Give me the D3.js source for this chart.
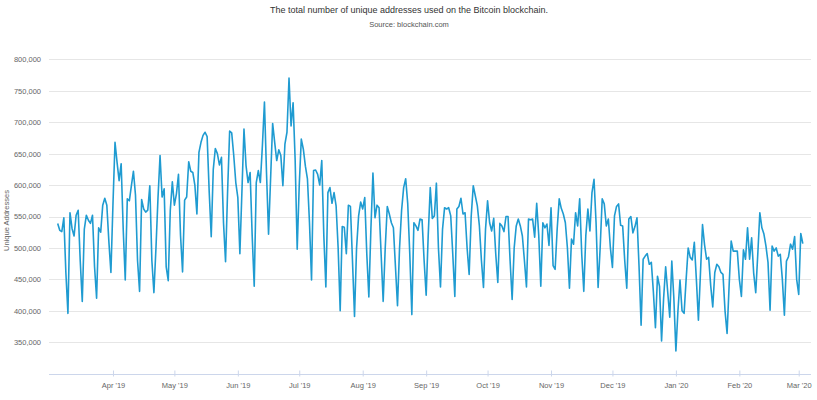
<!DOCTYPE html>
<html>
<head>
<meta charset="utf-8">
<script src="https://cdn.jsdelivr.net/npm/d3@7"></script>
<style>
  html, body { margin: 0; padding: 0; background: #fff; }
  svg { display: block; font-family: "Liberation Sans", Arial, sans-serif; }
</style>
</head>
<body>
<svg id="chart" width="817" height="400"></svg>
<script>
// ---- Data (daily, starting 2019-03-05) ----
const startDate = "2019-03-05";
const uniqueAddresses = [
  539000,528000,526000,548000,460000,396000,556000,531000,519000,552000,
  560000,480000,415000,530000,552000,544000,539000,552000,470000,420000,
  532000,525000,568000,579000,568000,510000,461000,570000,668000,636000,
  607000,634000,530000,449000,578000,575000,599000,622000,584000,480000,
  431000,577000,562000,557000,560000,599000,480000,429000,500000,580000,
  647000,581000,594000,470000,448000,560000,605000,568000,586000,617000,
  520000,462000,576000,581000,637000,622000,620000,600000,554000,652000,
  668000,679000,684000,677000,590000,518000,625000,658000,650000,632000,
  644000,540000,478000,590000,686000,683000,647000,604000,580000,491000,
  590000,689000,631000,604000,620000,520000,439000,604000,623000,604000,
  663000,732000,620000,522000,610000,698000,668000,639000,656000,647000,
  599000,665000,684000,770000,694000,731000,640000,498000,600000,673000,
  657000,630000,610000,540000,449000,623000,624000,617000,600000,639000,
  520000,438000,588000,596000,571000,588000,567000,500000,400000,534000,
  533000,491000,568000,566000,480000,391000,500000,551000,573000,562000,
  580000,490000,422000,530000,619000,548000,568000,564000,490000,415000,
  500000,566000,554000,540000,532000,470000,408000,500000,560000,596000,
  610000,570000,490000,394000,540000,535000,528000,546000,545000,480000,
  425000,520000,596000,547000,551000,603000,500000,438000,530000,564000,
  562000,564000,551000,490000,423000,562000,566000,579000,554000,556000,
  500000,458000,550000,599000,583000,567000,535000,480000,437000,530000,
  575000,540000,527000,547000,490000,445000,539000,535000,526000,550000,
  550000,480000,418000,500000,535000,546000,535000,519000,480000,438000,
  546000,545000,546000,517000,571000,520000,439000,540000,532000,538000,
  504000,564000,472000,466000,530000,578000,563000,554000,540000,500000,
  436000,514000,506000,556000,535000,578000,490000,431000,520000,562000,
  527000,588000,609000,540000,437000,500000,578000,570000,535000,546000,
  500000,469000,551000,566000,570000,536000,535000,480000,436000,546000,
  550000,524000,534000,548000,470000,377000,482000,487000,491000,474000,
  477000,430000,373000,455000,439000,352000,420000,470000,430000,390000,
  479000,420000,336000,400000,449000,400000,396000,450000,500000,485000,
  481000,509000,450000,385000,460000,537000,505000,482000,485000,440000,
  406000,461000,474000,470000,461000,458000,400000,364000,440000,511000,
  495000,495000,495000,450000,423000,497000,482000,532000,482000,516000,
  460000,429000,490000,556000,532000,522000,503000,477000,401000,503000,
  495000,500000,487000,490000,450000,393000,479000,486000,506000,498000,
  518000,450000,426000,523000,507000
];
const yTickValues = [350000,400000,450000,500000,550000,600000,650000,700000,750000,800000];
const xTickDates = ["2019-04-01","2019-05-01","2019-06-01","2019-07-01","2019-08-01","2019-09-01",
  "2019-10-01","2019-11-01","2019-12-01","2020-01-01","2020-02-01","2020-03-01"];
const titleText = "The total number of unique addresses used on the Bitcoin blockchain.";
const subtitleText = "Source: blockchain.com";
const yAxisTitle = "Unique Addresses";

// ---- Build ----
const parse = d3.utcParse("%Y-%m-%d");
const t0 = parse(startDate);
const data = uniqueAddresses.map((v, i) => ({ date: d3.utcDay.offset(t0, i), value: v }));

const svg = d3.select("#chart");
const plotLeft = 49, plotRight = 811, plotTop = 59.3, plotBottom = 373.7;

const x = d3.scaleUtc()
  .domain([d3.utcHour.offset(t0, -102), d3.utcHour.offset(t0, 368 * 24)])
  .range([plotLeft, plotRight]);
const y = d3.scaleLinear().domain([300000, 800000]).range([plotBottom, plotTop]);

// gridlines
svg.append("g").selectAll("line").data(yTickValues).join("line")
  .attr("x1", plotLeft).attr("x2", plotRight)
  .attr("y1", d => Math.round(y(d)) + 0.5).attr("y2", d => Math.round(y(d)) + 0.5)
  .attr("stroke", "#e6e6e6").attr("stroke-width", 1);

// y axis labels
const yAxis = d3.axisLeft(y).tickValues(yTickValues).tickSize(0).tickPadding(0)
  .tickFormat(d3.format(","));
const gy = svg.append("g").attr("transform", `translate(${plotLeft - 8},0)`).call(yAxis);
gy.select(".domain").remove();
gy.selectAll("text").attr("fill", "#666").attr("font-size", "7.5px")
  .attr("font-family", "Liberation Sans, Arial, sans-serif");

// x axis
const xAxis = d3.axisBottom(x).tickValues(xTickDates.map(parse))
  .tickFormat(d3.utcFormat("%b '%y")).tickSize(5).tickSizeOuter(0).tickPadding(3);
const gx = svg.append("g").attr("transform", `translate(0,${Math.round(plotBottom) + 0.5})`).call(xAxis);
gx.select(".domain").attr("stroke", "#ccd6eb").attr("d", `M${plotLeft},0H${plotRight}`);
gx.selectAll(".tick line").attr("stroke", "#ccd6eb").attr("y1", -4).attr("y2", 2);
gx.selectAll("text").attr("fill", "#666").attr("font-size", "7.5px")
  .attr("font-family", "Liberation Sans, Arial, sans-serif");

// line
const line = d3.line().x(d => x(d.date)).y(d => y(d.value)).curve(d3.curveLinear);
svg.append("path").datum(data)
  .attr("fill", "none").attr("stroke", "#1f9bd1").attr("stroke-width", 1.6)
  .attr("stroke-linejoin", "round").attr("d", line);

// titles
svg.append("text").attr("x", 409).attr("y", 13).attr("text-anchor", "middle")
  .attr("fill", "#333").attr("font-size", "9px").text(titleText);
svg.append("text").attr("x", 409).attr("y", 27).attr("text-anchor", "middle")
  .attr("fill", "#555").attr("font-size", "7.5px").text(subtitleText);
svg.append("text")
  .attr("transform", `translate(9,${(plotTop + plotBottom) / 2 + 4}) rotate(-90)`)
  .attr("text-anchor", "middle").attr("fill", "#666").attr("font-size", "7.5px")
  .text(yAxisTitle);
</script>
</body>
</html>
